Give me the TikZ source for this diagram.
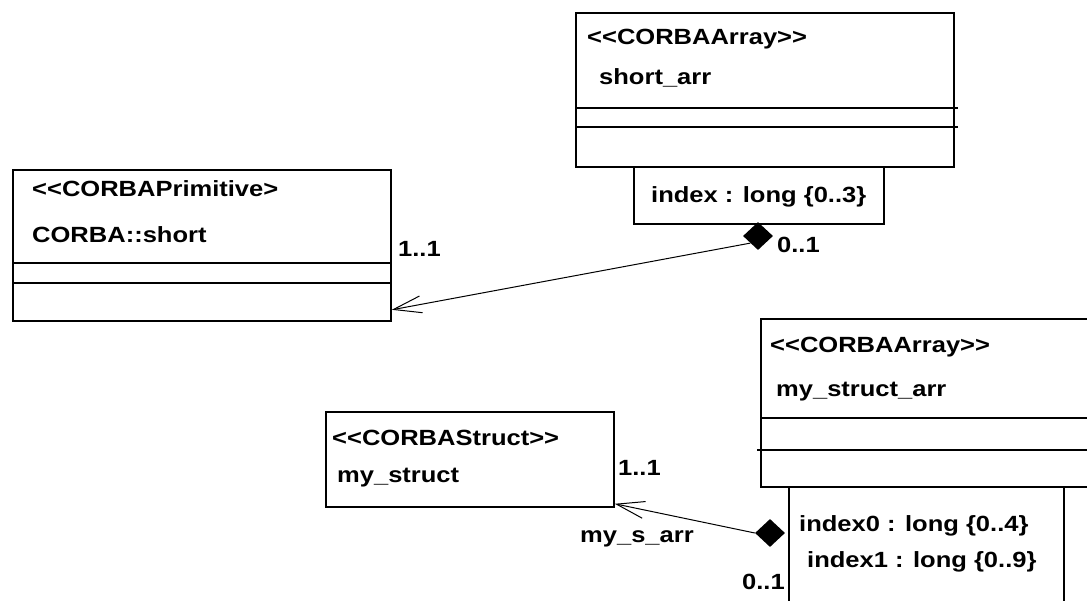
\documentclass[tikz,border=0pt]{standalone}
\usepackage{fontspec}
\setmainfont[FakeStretch=1.16]{Liberation Sans}
\usetikzlibrary{arrows.meta,shapes.geometric}
\newcommand\stOpen{<\kern0pt<}
\newcommand\stClose{>\kern0pt>}

\begin{document}
\begin{tikzpicture}[x=1pt, y=-1pt,
    box/.style={draw, line width=1.8pt, anchor=north west, inner sep=0},
    txt/.style={anchor=base west, inner sep=0, font=\fontsize{22}{26}\selectfont\bfseries},
    dmd/.style={diamond, fill=black, inner sep=0, minimum width=30pt, minimum height=28pt},
    assoc/.style={line width=1pt, -{Straight Barb[length=28pt, width=17pt]}}]
            \clip (0,0) rectangle (1087,601);
            \fill[white] (0,0) rectangle (1087,601);
            \node[box, minimum width=378pt, minimum height=154pt] (sarr) at (575,12) {};
            \draw[line width=1.8pt] (577,108) -- (958,108) (577,127) -- (958,127);
            \node[box, fill=white, minimum width=250pt, minimum height=57pt] (sidx) at (633,166) {};
            \node[box, minimum width=378pt, minimum height=151pt] (prim) at (12,169) {};
            \draw[line width=1.8pt] (12,263) -- (390,263) (12,283) -- (390,283);
            \node[box, minimum width=360pt, minimum height=168pt] (msarr) at (760,318) {};
            \draw[line width=1.8pt] (760,418) -- (1087,418) (757,450) -- (1087,450);
            \node[box, fill=white, minimum width=275pt, minimum height=140pt] (msidx) at (788,486) {};
            \node[box, minimum width=288pt, minimum height=95pt] (mstruct) at (325,411) {};
            \node[txt] (sarrst) at (587,45) {\stOpen CORBAArray\stClose};
            \node[txt] (sarrnm) at (599,85) {short\_arr};
            \node[txt] (sidxtx) at (651,203) {index : long \{0..3\}};
            \node[txt] (primst) at (32,197) {\stOpen CORBAPrimitive>};
            \node[txt] (primnm) at (32,243) {CORBA::short};
            \node[txt] (msarrst) at (770,353) {\stOpen CORBAArray\stClose};
            \node[txt] (msarrnm) at (776,397) {my\_struct\_arr};
            \node[txt] (msidxa) at (799,531) {index0 : long \{0..4\}};
            \node[txt] (msidxb) at (807,567) {index1 : long \{0..9\}};
            \node[txt] (mstrst) at (332,445) {\stOpen CORBAStruct\stClose};
            \node[txt] (mstrnm) at (337,482) {my\_struct};
            \node[dmd] (d1) at (758,236) {};
            \node[dmd] (d2) at (770,533) {};
            \draw[assoc] (d1.south west) -- ([yshift=12pt]prim.south east);
            \draw[assoc] (d2.west) -- ([yshift=4pt]mstruct.south east);
            \node[txt] (m1) at (398,257) {1..1};
            \node[txt] (m2) at (777,253) {0..1};
            \node[txt] (m3) at (618,475) {1..1};
            \node[txt] (rl) at (580,542) {my\_s\_arr};
            \node[txt] (m4) at (742,589) {0..1};
        \end{tikzpicture}
\end{document}
